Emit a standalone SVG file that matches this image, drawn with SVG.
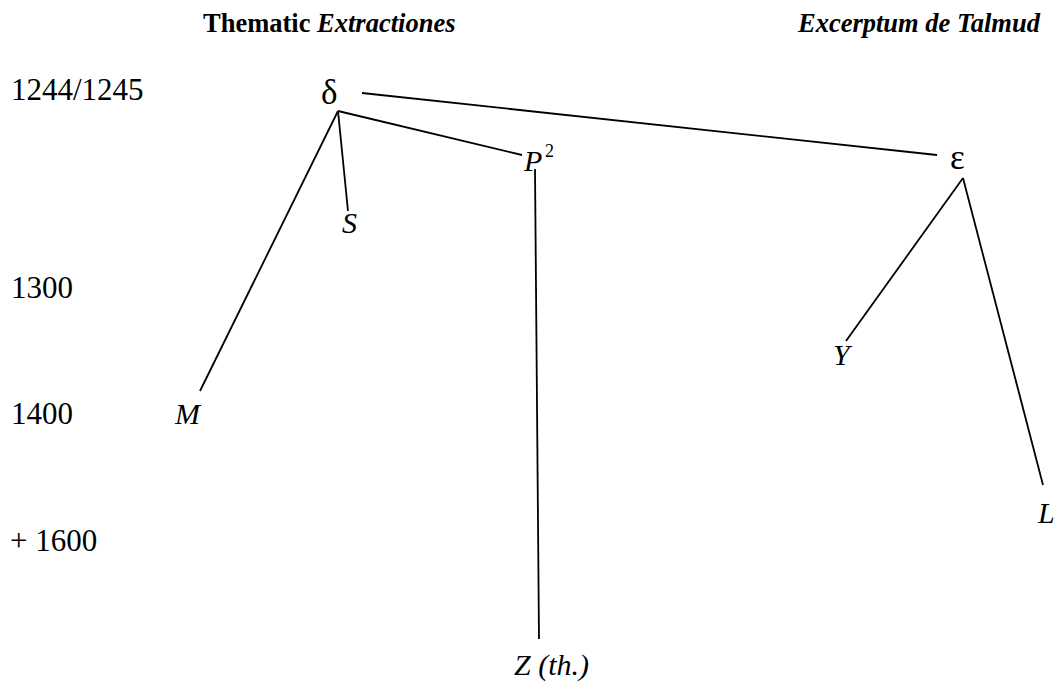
<svg xmlns="http://www.w3.org/2000/svg" width="1059" height="684" viewBox="0 0 1059 684" font-family="'Liberation Serif', 'Times New Roman', serif">
<style>
text{font-family:"Liberation Serif","Times New Roman",serif;fill:#000}
.h{font-size:26.5px;font-weight:bold}
.yr{font-size:31px}
.it{font-size:30px;font-style:italic}
.gr{font-size:35px}
.c line{stroke:#000;stroke-width:1.8;fill:none}
</style>
<rect width="1059" height="684" fill="#fff"/>
<g id="headings">
<text class="h" x="203" y="32">Thematic <tspan font-style="italic">Extractiones</tspan></text>
<text class="h" x="798" y="32" font-style="italic">Excerptum de Talmud</text>
</g>
<g id="years">
<text class="yr" x="11" y="100">1244/1245</text>
<text class="yr" x="11" y="298">1300</text>
<text class="yr" x="11" y="424">1400</text>
<text class="yr" x="10" y="551">+ 1600</text>
</g>
<g class="c" id="connectors">
<line x1="362" y1="93" x2="937" y2="155"/>
<line x1="338" y1="111" x2="200" y2="391"/>
<line x1="338" y1="111" x2="348" y2="211"/>
<line x1="338" y1="111" x2="522" y2="155"/>
<line x1="535" y1="169" x2="539" y2="639"/>
<line x1="963" y1="178" x2="846" y2="341"/>
<line x1="963" y1="178" x2="1043" y2="485"/>
</g>
<g id="delta"><text class="gr" x="321" y="104">δ</text></g>
<g id="epsilon"><text class="gr" x="950" y="169">ε</text></g>
<g id="P2"><text class="it" x="524" y="171" font-size="28">P</text><text x="545" y="157" font-size="18">2</text></g>
<g id="S"><text class="it" x="342" y="233">S</text></g>
<g id="M"><text class="it" x="175" y="424">M</text></g>
<g id="Y"><text class="it" x="833" y="365">Y</text></g>
<g id="L"><text class="it" x="1038" y="523">L</text></g>
<g id="Z"><text class="it" x="514" y="675">Z (th.)</text></g>
</svg>
